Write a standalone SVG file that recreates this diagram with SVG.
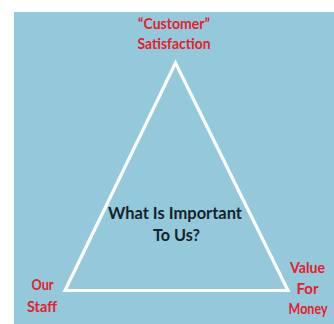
<svg xmlns="http://www.w3.org/2000/svg" width="334" height="324" viewBox="0 0 334 324">
  <style>
    .label { font-family: Lato, "Open Sans", "Liberation Sans", sans-serif; font-weight: bold; text-anchor: middle; }
    .red { fill: #e5202b; font-size: 15px; }
    .dark { fill: #16232b; font-size: 17px; }
    .edge { fill: none; stroke: #ffffff; stroke-width: 3.2; stroke-linejoin: miter; }
  </style>
  <rect width="334" height="324" fill="#ffffff"/>
  <rect x="14" y="12" width="320" height="312" fill="#93c9da"/>

  <g id="connectors">
    <polygon class="edge" points="175.5,63 65,290.5 288,290.5"/>
  </g>

  <g id="node-satisfaction">
    <text class="label red" x="174" y="29" textLength="72" lengthAdjust="spacingAndGlyphs">“Customer”</text>
    <text class="label red" x="174" y="49" textLength="73" lengthAdjust="spacingAndGlyphs">Satisfaction</text>
  </g>

  <g id="node-centre">
    <text class="label dark" x="175" y="219" textLength="134" lengthAdjust="spacingAndGlyphs">What Is Important</text>
    <text class="label dark" x="176.5" y="241" textLength="47" lengthAdjust="spacingAndGlyphs">To Us?</text>
  </g>

  <g id="node-staff">
    <text class="label red" x="42.5" y="290" textLength="22" lengthAdjust="spacingAndGlyphs">Our</text>
    <text class="label red" x="42" y="312" textLength="30" lengthAdjust="spacingAndGlyphs">Staff</text>
  </g>

  <g id="node-value">
    <text class="label red" x="307.5" y="273" textLength="35" lengthAdjust="spacingAndGlyphs">Value</text>
    <text class="label red" x="307.5" y="294" textLength="22" lengthAdjust="spacingAndGlyphs">For</text>
    <text class="label red" x="308" y="314" textLength="39" lengthAdjust="spacingAndGlyphs">Money</text>
  </g>
</svg>
